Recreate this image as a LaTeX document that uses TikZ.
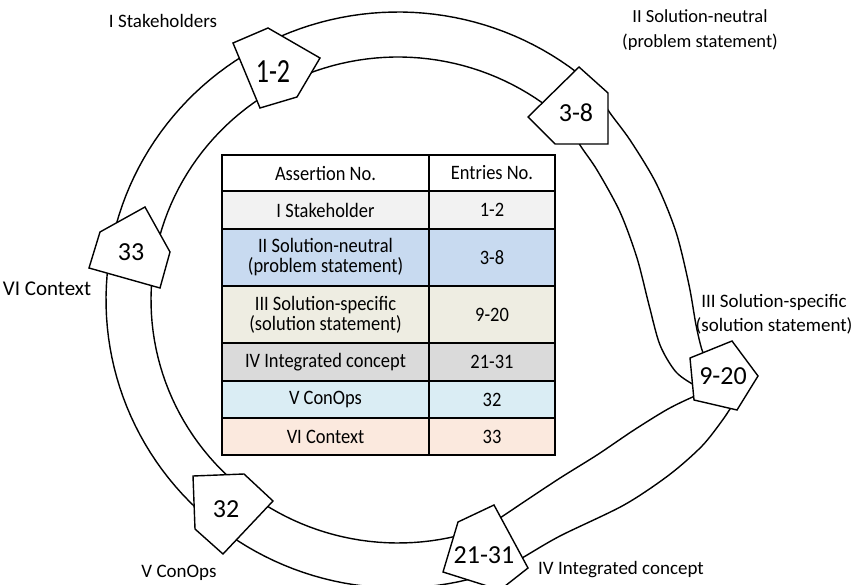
\documentclass[tikz,border=0pt]{standalone}
\usepackage{fontspec}
\setmainfont{Carlito}
\newfontfamily\tabfont{Carlito}[FakeStretch=0.9]
\definecolor{rowI}{RGB}{242,242,242}
\definecolor{rowII}{RGB}{200,218,240}
\definecolor{rowIII}{RGB}{238,237,226}
\definecolor{rowIV}{RGB}{218,218,218}
\definecolor{rowV}{RGB}{218,237,244}
\definecolor{rowVI}{RGB}{251,233,222}
\tikzset{
  ringline/.style={line width=1.4pt},
  pent/.style={draw=black, fill=white, line width=1.4pt, line join=miter},
  num/.style={font=\fontsize{26}{30}\selectfont, inner sep=0pt},
  lab/.style={font=\fontsize{19}{24.5}\selectfont, align=center, inner sep=0pt},
  cell/.style={draw=black, line width=1.8pt, inner sep=0pt, outer sep=0pt, align=center,
    font=\tabfont\fontsize{20.5}{20}\selectfont},
}
\begin{document}
\begin{tikzpicture}[x=1pt,y=-1pt]
\useasboundingbox (0,0) rectangle (856,585);
\clip (0,0) rectangle (856,585);
% ---------------- ring: left part (21-31 -> 32 -> 33 -> 1-2 -> 3-8)
\draw[ringline] plot[domain=70:314, samples=120] ({398+292*cos(\x)},{300+288*sin(\x)});
\draw[ringline] plot[domain=70:314, samples=120] ({398+247*cos(\x)},{300+243*sin(\x)});
% C: 3-8 -> 9-20
\draw[ringline] plot[smooth] coordinates {(601,93) (608,110) (630,140) (656,183) (676,232) (689,285) (696,325) (702,350) (708,362)};
\draw[ringline] plot[smooth] coordinates {(570,125) (580,145) (597,170) (620,212) (637,258) (649,305) (660,345) (676,372) (696,386) (705,388)};
% D: 9-20 -> 21-31
\draw[ringline] plot[smooth] coordinates {(738,396) (724,418) (702,446) (669,475) (624,505) (560,536) (522,558) (498,571)};
\draw[ringline] plot[smooth] coordinates {(708,392) (695,396) (668,409) (634,430) (597,455) (557,480) (500,518) (483,530)};
% ---------------- pentagons
\draw[pent] (233,43) -- (268,28) -- (320,58) -- (297,97) -- (260,108) -- cycle;
\node[num] (n12) at (273,72) {\scalebox{1}[1.3]{1-2}};
\draw[pent] (528,117) -- (579,67) -- (608,93) -- (608,144) -- (555,144) -- cycle;
\node[num] (n38) at (576,113) {3-8};
\draw[pent] (100,232) -- (145,207) -- (170,252) -- (160,288) -- (89,268) -- cycle;
\node[num] (n33) at (131,252) {33};
\draw[pent] (690,358) -- (732,341) -- (758,376) -- (737,410) -- (694,400) -- cycle;
\node[num] (n920) at (723,376) {9-20};
\draw[pent] (193,476) -- (244,474) -- (273,501) -- (223,554) -- (195,529) -- cycle;
\node[num] (n32) at (226,509) {32};
\draw[pent] (458,522) -- (494,505) -- (528,568) -- (500,590) -- (443,572) -- cycle;
\node[num] (n2131) at (484,555) {21-31};
% ---------------- labels
\node[lab] (lI) at (163,21) {I Stakeholders};
\node[lab, font=\fontsize{18.5}{25}\selectfont] (lII) at (700,30) {II Solution-neutral\\(problem statement)};
\node[lab, font=\fontsize{21}{24}\selectfont] (lVI) at (47,289) {VI Context};
\node[lab] (lIII) at (774,314) {III Solution-specific\\(solution statement)};
\node[lab] (lV) at (179,573) {V ConOps};
\node[lab] (lIV) at (621,570) {IV Integrated concept};
% ---------------- table
\node[cell, fill=white, minimum width=207pt, minimum height=36pt] (h1) at (325.5,173) {Assertion No.};
\node[cell, fill=white, minimum width=126pt, minimum height=36pt] (h2) at (492,173) {Entries No.};
\node[cell, fill=rowI, minimum width=207pt, minimum height=38pt] (a1) at (325.5,210) {I Stakeholder};
\node[cell, fill=rowI, minimum width=126pt, minimum height=38pt] (b1) at (492,210) {1-2};
\node[cell, fill=rowII, minimum width=207pt, minimum height=57pt] (a2) at (325.5,257.5) {II Solution-neutral\\(problem statement)};
\node[cell, fill=rowII, minimum width=126pt, minimum height=57pt] (b2) at (492,257.5) {3-8};
\node[cell, fill=rowIII, minimum width=207pt, minimum height=57pt] (a3) at (325.5,314.5) {III Solution-specific\\(solution statement)};
\node[cell, fill=rowIII, minimum width=126pt, minimum height=57pt] (b3) at (492,314.5) {9-20};
\node[cell, fill=rowIV, minimum width=207pt, minimum height=38pt] (a4) at (325.5,362) {IV Integrated concept};
\node[cell, fill=rowIV, minimum width=126pt, minimum height=38pt] (b4) at (492,362) {21-31};
\node[cell, fill=rowV, minimum width=207pt, minimum height=37pt] (a5) at (325.5,399.5) {V ConOps};
\node[cell, fill=rowV, minimum width=126pt, minimum height=37pt] (b5) at (492,399.5) {32};
\node[cell, fill=rowVI, minimum width=207pt, minimum height=37pt] (a6) at (325.5,436.5) {VI Context};
\node[cell, fill=rowVI, minimum width=126pt, minimum height=37pt] (b6) at (492,436.5) {33};
\end{tikzpicture}
\end{document}
